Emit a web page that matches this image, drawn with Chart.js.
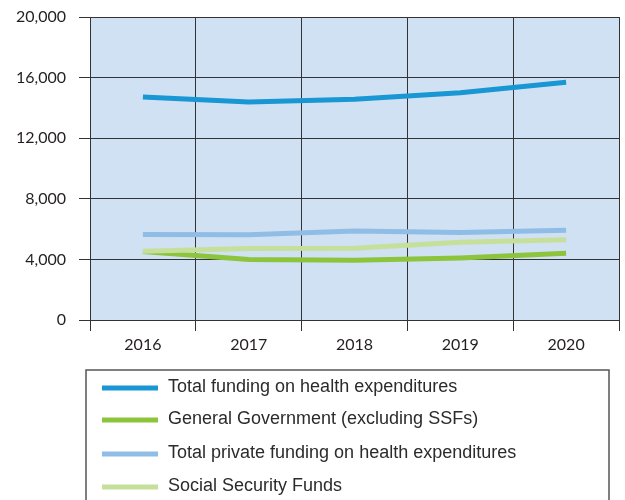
<!DOCTYPE html>
<html>
<head>
<meta charset="utf-8">
<script src="https://cdn.jsdelivr.net/npm/chart.js@4/dist/chart.umd.min.js"></script>
<style>
  html, body { margin: 0; padding: 0; background: #fff; }
  #wrap { width: 625px; height: 500px; position: relative; }
</style>
</head>
<body>
<div id="wrap"><canvas id="chart" width="625" height="500"></canvas></div>
<script>
// Années et séries
const years = ['2016', '2017', '2018', '2019', '2020'];
const totalFunding = [14720, 14390, 14570, 15000, 15690];
const generalGov = [4520, 4000, 3940, 4100, 4400];
const privateFunding = [5650, 5630, 5880, 5770, 5920];
const socialSecurity = [4530, 4720, 4740, 5130, 5300];

const seriesNames = [
    'Total funding on health expenditures',
    'General Government (excluding SSFs)',
    'Total private funding on health expenditures',
    'Social Security Funds'
];
const seriesColors = ['#1997d4', '#8cc43c', '#90bde6', '#c6e09c'];

// Fond bleu de la zone de tracé
const plotBackground = {
    id: 'plotBackground',
    beforeDraw(chart) {
        const { ctx, chartArea: a } = chart;
        ctx.save();
        ctx.fillStyle = '#d0e1f3';
        ctx.fillRect(a.left, a.top, a.right - a.left, a.bottom - a.top);
        ctx.restore();
    }
};

// Légende encadrée sous le graphique
const boxLegend = {
    id: 'boxLegend',
    afterDraw(chart) {
        const ctx = chart.ctx;
        ctx.save();
        ctx.strokeStyle = '#555';
        ctx.lineWidth = 1.5;
        ctx.strokeRect(86, 370, 523, 140);
        const rows = [388, 420, 454, 487];
        ctx.font = '18px "Liberation Sans", Arial, sans-serif';
        ctx.fillStyle = '#2b2b2b';
        ctx.textBaseline = 'middle';
        for (let i = 0; i < seriesNames.length; i++) {
            ctx.strokeStyle = seriesColors[i];
            ctx.lineWidth = 5;
            ctx.beginPath();
            ctx.moveTo(102, rows[i]);
            ctx.lineTo(158, rows[i]);
            ctx.stroke();
            ctx.fillText(seriesNames[i], 168, rows[i] - 1);
        }
        ctx.restore();
    }
};

const allSeries = [totalFunding, generalGov, privateFunding, socialSecurity];
const drawOrder = [1, 2, 3, 0];

const datasets = allSeries.map((values, i) => ({
    label: seriesNames[i],
    data: values,
    borderColor: seriesColors[i],
    backgroundColor: seriesColors[i],
    borderWidth: 5,
    pointRadius: 0,
    tension: 0,
    borderCapStyle: 'butt',
    order: drawOrder[i]
}));

const tickFont = { family: 'Lato, "Open Sans", sans-serif', size: 16 };

new Chart(document.getElementById('chart'), {
    type: 'line',
    data: { labels: years, datasets: datasets },
    plugins: [plotBackground, boxLegend],
    options: {
        responsive: false,
        animation: false,
        layout: { padding: { top: 17, right: 6, left: 0, bottom: 0 } },
        plugins: {
            legend: { display: false },
            tooltip: { enabled: false }
        },
        scales: {
            x: {
                type: 'category',
                offset: true,
                grid: {
                    offset: true,
                    color: '#333',
                    lineWidth: 1,
                    tickLength: 11,
                    drawTicks: true
                },
                border: { color: '#333', width: 1 },
                ticks: { color: '#231f20', font: tickFont, padding: 4, maxRotation: 0 },
                afterFit(scale) { scale.height = 180; }
            },
            y: {
                min: 0,
                max: 20000,
                grid: {
                    color: '#333',
                    lineWidth: 1,
                    tickLength: 11
                },
                border: { color: '#333', width: 1 },
                ticks: {
                    stepSize: 4000,
                    color: '#231f20',
                    font: tickFont,
                    padding: 13,
                    callback: v => v.toLocaleString('en-US')
                },
                afterFit(scale) {
                    scale.width = 90;
                    scale.paddingTop = 0;
                    scale.paddingBottom = 0;
                }
            }
        }
    }
});
</script>
</body>
</html>
